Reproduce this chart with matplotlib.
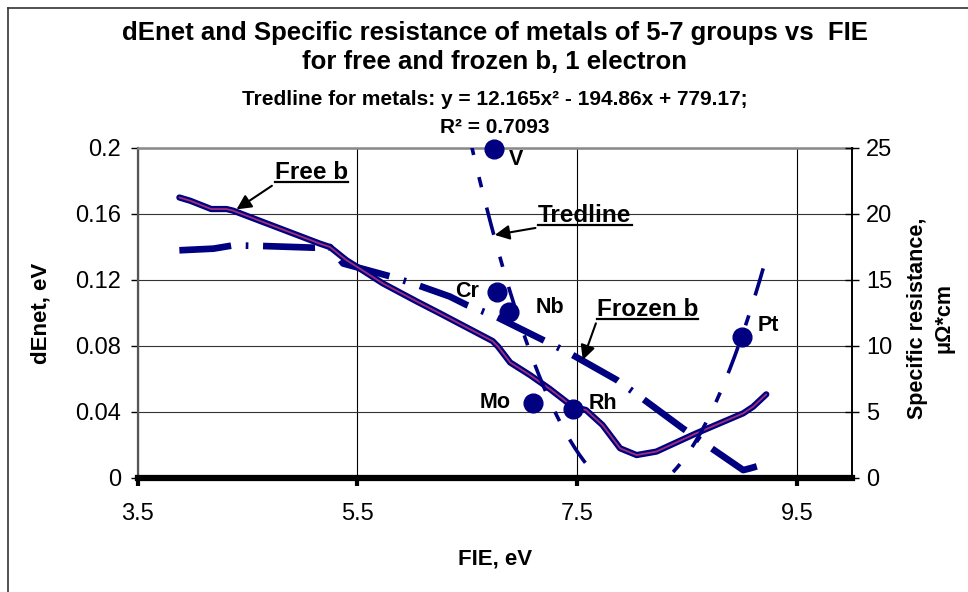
import numpy as np
import matplotlib
matplotlib.use("Agg")
import matplotlib.pyplot as plt
from matplotlib.lines import Line2D
from matplotlib.text import Text

plt.rcParams['font.family'] = ['Liberation Sans', 'DejaVu Sans']

# dEnet for free b
free_x = [3.88, 3.98, 4.17, 4.31, 4.37, 5.16, 5.25, 5.40, 5.52, 5.73, 6.04, 6.25,
          6.73, 6.78, 6.89, 7.07, 7.25, 7.46, 7.58, 7.73, 7.89, 8.04, 8.22, 8.58,
          9.01, 9.10, 9.22]
free_y = [0.170, 0.168, 0.163, 0.163, 0.162, 0.142, 0.140, 0.132, 0.127, 0.118, 0.107, 0.0998,
          0.0830, 0.0796, 0.0700, 0.0624, 0.0540, 0.0432, 0.0412, 0.0321, 0.0180, 0.0139, 0.0160, 0.0270,
          0.0392, 0.0432, 0.0507]

# dEnet for frozen b
frozen_x = [3.88, 4.19, 4.37, 4.64, 5.10, 5.25, 5.37, 5.81, 6.00, 6.34, 6.49, 6.76,
            7.19, 7.43, 7.86, 8.07, 8.46, 8.70, 9.01, 9.07, 9.23]
frozen_y = [0.138, 0.139, 0.141, 0.1406, 0.1396, 0.140, 0.130, 0.122, 0.118, 0.110, 0.105, 0.0978,
            0.0836, 0.0756, 0.0594, 0.0493, 0.0301, 0.019, 0.0048, 0.0058, 0.0089]

# metals: FIE and specific resistance
metals = ['V', 'Cr', 'Nb', 'Mo', 'Rh', 'Pt']
metal_fie = [6.74, 6.77, 6.88, 7.10, 7.46, 9.00]
metal_res = [24.9, 14.1, 12.6, 5.7, 5.2, 10.7]
label_offsets = [(22, -10), (-30, 0), (41, 4), (-38, 0), (30, 6), (26, 11)]

# trendline shown in the chart
trend_coef = [12.165, -194.86, 779.17]
trend_range = (6.5, 9.2)

left_ticks = [0, 0.04, 0.08, 0.12, 0.16, 0.2]
left_labels = ['0', '0.04', '0.08', '0.12', '0.16', '0.2']
right_ticks = [0, 5, 10, 15, 20, 25]
x_ticks = [3.5, 5.5, 7.5, 9.5]

navy = '#000080'

fig = plt.figure(figsize=(9.68, 5.92), dpi=100)
W, H = 968, 592
ax = fig.add_axes([137.6 / W, (H - 478) / H, (852 - 137.6) / W, (478 - 148) / H])

ax.plot(frozen_x, frozen_y, color=navy, lw=4.8, dashes=(7.8, 2.2, 0.4, 2.2),
        solid_capstyle='butt', zorder=3)
ax.plot(free_x, free_y, color=navy, lw=4.5, solid_capstyle='round', zorder=4)
ax.plot(free_x, free_y, color='#A0307A', lw=1.3, solid_capstyle='round', zorder=5)

ax.set_xlim(3.5, 10)
ax.set_ylim(0, 0.2)
ax.set_xticks(x_ticks)
ax.set_xticklabels([str(v) for v in x_ticks])
ax.set_yticks(left_ticks)
ax.set_yticklabels(left_labels)
ax.grid(True, axis='y', color='#333333', lw=0.8)
ax.grid(True, axis='x', color='black', lw=0.8)

ax.spines['bottom'].set_linewidth(4.5)
ax.spines['bottom'].set_color('black')
ax.spines['left'].set_color('#555555')
ax.spines['left'].set_linewidth(1.6)
ax.spines['top'].set_color('#888888')
ax.spines['top'].set_linewidth(1.8)
ax.spines['right'].set_visible(False)

ax.tick_params(axis='x', direction='out', length=6, width=3, labelsize=17, pad=12)
ax.tick_params(axis='y', direction='out', length=5, width=1, labelsize=17, pad=7)

ax.set_xlabel('FIE, eV', fontsize=16, fontweight='bold')
ax.xaxis.set_label_coords(0.5, -0.215)
ax.set_ylabel('dEnet, eV', fontsize=16, fontweight='bold')
ax.yaxis.set_label_coords(-0.12, 0.5)

ax2 = ax.twinx()
ax2.set_ylim(0, 25)
ax2.set_yticks(right_ticks)
ax2.tick_params(axis='y', direction='inout', length=10, width=1, labelsize=17, pad=5)
for s in ['top', 'bottom', 'left']:
    ax2.spines[s].set_visible(False)
ax2.spines['right'].set_color('black')
ax2.spines['right'].set_linewidth(1.4)

tx = np.linspace(trend_range[0], trend_range[1], 200)
ax2.plot(tx, np.polyval(trend_coef, tx), color=navy, lw=2.6,
         dashes=(7.8, 6.3, 2.9, 5.8), zorder=3)
ax2.plot(metal_fie, metal_res, 'o', color=navy, ms=13.5, clip_on=False, zorder=6)
for name, x, y, off in zip(metals, metal_fie, metal_res, label_offsets):
    ax2.annotate(name, (x, y), xytext=off, textcoords='offset pixels',
                 ha='center', va='center', fontsize=15.5, fontweight='bold')

ax2.text(1.11, 0.485, 'Specific resistance,\nμΩ*cm', transform=ax2.transAxes,
         rotation=90, ha='center', va='center', fontsize=15.5, fontweight='bold',
         linespacing=1.35, multialignment='center')

# callouts
callouts = [('Free b', (5.08, 0.1852), (4.40, 0.1628)),
            ('Tredline', (7.57, 0.1588), (6.75, 0.1473)),
            ('Frozen b', (8.14, 0.1024), (7.55, 0.0715))]
texts = []
for label, pos, tip in callouts:
    t = ax.annotate(label, xy=tip, xytext=pos, ha='center', va='center',
                    fontsize=17.5, fontweight='bold', zorder=8,
                    arrowprops=dict(arrowstyle='-|>', color='black', lw=1.5,
                                    mutation_scale=22, relpos=(0, 0),
                                    shrinkA=0, shrinkB=0))
    texts.append(t)

fig.text(495 / W, 1 - 47.5 / H, 'dEnet and Specific resistance of metals of 5-7 groups vs  FIE\n'
         'for free and frozen b, 1 electron', ha='center', va='center',
         fontsize=18.5, fontweight='bold', linespacing=1.25)
fig.text(495 / W, 1 - 113.5 / H, 'Tredline for metals: y = 12.165x² - 194.86x + 779.17;\nR² = 0.7093',
         ha='center', va='center', fontsize=15, fontweight='bold', linespacing=1.6)

# frame of the chart area
fig.add_artist(Line2D([7.5 / W, 7.5 / W], [0, 1 - 7.5 / H], color='#333333', lw=1.2))
fig.add_artist(Line2D([7.5 / W, 1], [1 - 7.5 / H, 1 - 7.5 / H], color='#333333', lw=1.2))

# underline the callout texts
fig.canvas.draw()
renderer = fig.canvas.get_renderer()
inv = fig.transFigure.inverted()
for t in texts:
    bb = Text.get_window_extent(t, renderer)
    (x0, y0), (x1, _) = inv.transform([(bb.x0, bb.y0 + 2), (bb.x1, bb.y0 + 2)])
    fig.add_artist(Line2D([x0, x1], [y0, y0], color='black', lw=1.6))

fig.savefig('out.png', dpi=100)
